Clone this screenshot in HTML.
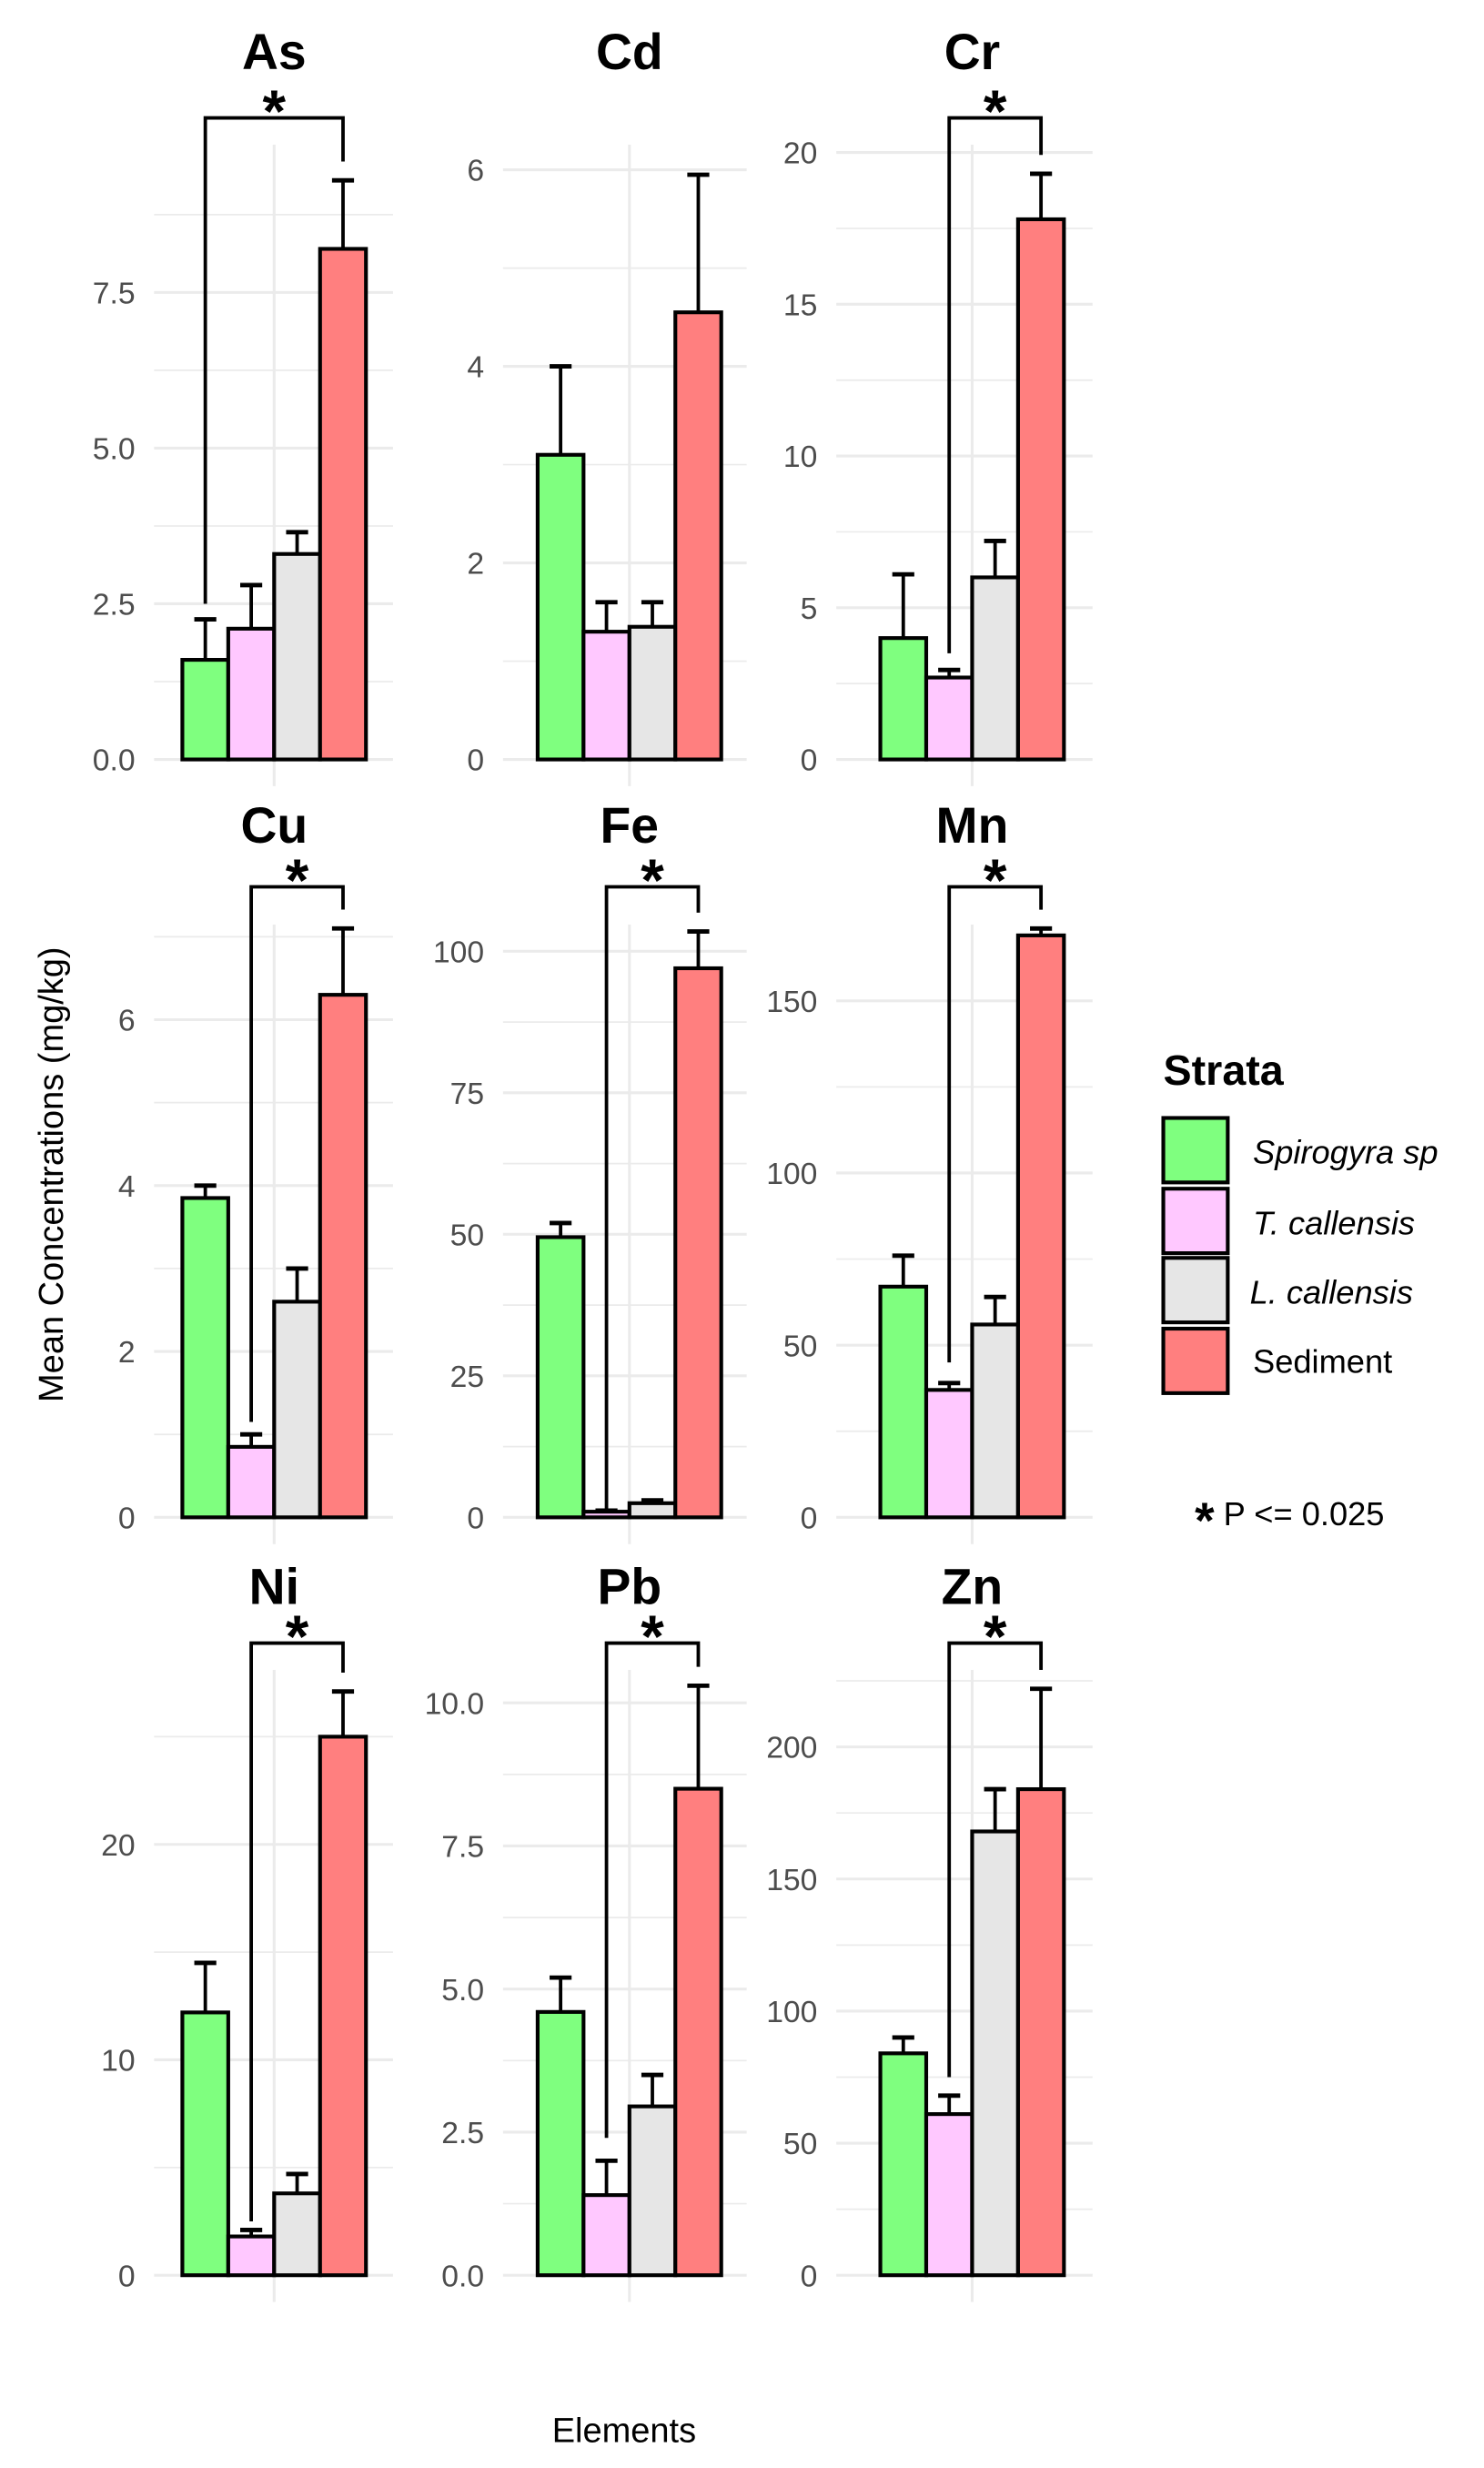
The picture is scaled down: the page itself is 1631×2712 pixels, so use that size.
<!DOCTYPE html>
<html><head><meta charset="utf-8"><style>
html,body{margin:0;padding:0;background:#fff;}
svg{display:block;font-family:"Liberation Sans",Arial,sans-serif;}
</style></head><body>
<svg id="chart" width="1631" height="2712" viewBox="0 0 944 1569.6" preserveAspectRatio="none" xmlns="http://www.w3.org/2000/svg">
<g id="grid"></g><g id="marks"></g><g id="labels"></g>
<text x="0" y="0" transform="translate(40,747) rotate(-90)" text-anchor="middle" font-size="22" fill="#000">Mean Concentrations (mg/kg)</text>
<text x="397" y="1553" text-anchor="middle" font-size="22" fill="#000">Elements</text>
<g>
<text x="740" y="690" font-size="27" font-weight="bold" fill="#000">Strata</text>
<rect x="740" y="711" width="41" height="41" fill="#7fff7f" stroke="#000" stroke-width="2.4"/>
<rect x="740" y="756" width="41" height="41" fill="#ffc8ff" stroke="#000" stroke-width="2.4"/>
<rect x="740" y="800" width="41" height="41" fill="#e6e6e6" stroke="#000" stroke-width="2.4"/>
<rect x="740" y="845" width="41" height="41" fill="#ff7f7f" stroke="#000" stroke-width="2.4"/>
<text x="797" y="740" font-size="21" font-style="italic">Spirogyra sp</text>
<text x="797" y="785" font-size="21" font-style="italic">T. callensis</text>
<text x="795" y="829" font-size="21" font-style="italic">L. callensis</text>
<text x="797" y="873" font-size="21">Sediment</text>
<text x="760" y="970" font-size="21"><tspan font-weight="bold" font-size="32" dy="8">*</tspan><tspan dy="-8"> P &lt;= 0.025</tspan></text>
</g>
</svg>
<script>
const elements = ["As","Cd","Cr","Cu","Fe","Mn","Ni","Pb","Zn"];
const spirogyraMean = [1.6, 3.1, 4.0, 3.85, 49.5, 67, 12.2, 4.6, 84];
const spirogyraErr  = [2.25, 4.0, 6.1, 4.0, 52, 76, 14.5, 5.2, 90];
const tcallMean = [2.1, 1.3, 2.7, 0.85, 1, 37, 1.8, 1.4, 61];
const tcallErr  = [2.8, 1.6, 2.95, 1.0, 1.2, 39, 2.1, 2.0, 68];
const lcallMean = [3.3, 1.35, 6.0, 2.6, 2.5, 56, 3.8, 2.95, 168];
const lcallErr  = [3.65, 1.6, 7.2, 3.0, 3.0, 64, 4.7, 3.5, 184];
const sedimentMean = [8.2, 4.55, 17.8, 6.3, 97, 169, 25, 8.5, 184];
const sedimentErr  = [9.3, 5.95, 19.3, 7.1, 103.5, 171, 27.1, 10.3, 222];
const tickValues = [[0,2.5,5,7.5],[0,2,4,6],[0,5,10,15,20],[0,2,4,6],[0,25,50,75,100],[0,50,100,150],[0,10,20],[0,2.5,5,7.5,10],[0,50,100,150,200]];
const tickLabels = [["0.0","2.5","5.0","7.5"],["0","2","4","6"],["0","5","10","15","20"],["0","2","4","6"],["0","25","50","75","100"],["0","50","100","150"],["0","10","20"],["0.0","2.5","5.0","7.5","10.0"],["0","50","100","150","200"]];
const sigFrom = [0, null, 1, 1, 1, 1, 1, 1, 1];
const sigLegEnd = [2.5, null, 3.5, 1.15, 1.5, 45, 2.5, 2.4, 75];
const tickStep = [2.5, 2, 5, 2, 25, 50, 10, 2.5, 50];
// layout
const colGrid = [[98,250],[320,475],[532,695]];
const colBar = [116,342,560];
const barW = 29.2;
const rowZero = [483,965,1447];
const rowTop = [92,588,1062];
const pxPerStep = [99, 125, 96.5, 105.5, 90, 109.5, 137, 91, 84];
const fills = ["#7fff7f","#ffc8ff","#e6e6e6","#ff7f7f"];
const seriesNames = ["spirogyra","t-callensis","l-callensis","sediment"];
const NS = "http://www.w3.org/2000/svg";
const gGrid = document.getElementById('grid'), gMarks = document.getElementById('marks'), gLab = document.getElementById('labels');
function mk(tag, attrs, parent){const e=document.createElementNS(NS,tag);for(const k in attrs)e.setAttribute(k,attrs[k]);parent.appendChild(e);return e;}
elements.forEach((el,i)=>{
  const col=i%3,row=Math.floor(i/3);
  const [gx0,gx1]=colGrid[col];
  const y0=rowZero[row], top=rowTop[row], bot=y0+17;
  const scale=pxPerStep[i]/tickStep[i];
  const Y=v=>y0-v*scale;
  for(let k=0;;k++){
    const v=k*tickStep[i]/2; const y=Y(v); if(y<top) break;
    const ln=mk('line',{x1:gx0,x2:gx1,y1:y,y2:y,stroke:'#ebebeb','stroke-width':k%2?1:1.8},gGrid);
    
    
  }
  const vl=mk('line',{x1:colBar[col]+2*barW,x2:colBar[col]+2*barW,y1:top,y2:bot,stroke:'#ebebeb','stroke-width':1.8},gGrid);
  
  
  tickValues[i].forEach((t,j)=>{
    const tx=mk('text',{x:gx0-12,y:Y(t)+7,'text-anchor':'end','font-size':19.5,fill:'#4d4d4d'},gLab);
    tx.textContent=tickLabels[i][j];
    
    
  });
  const ttl=mk('text',{x:colBar[col]+2*barW,y:[44,536,1020][row],'text-anchor':'middle','font-size':32,'font-weight':'bold',fill:'#000'},gLab);
  ttl.textContent=el;
  
  
  const means=[spirogyraMean[i],tcallMean[i],lcallMean[i],sedimentMean[i]];
  const errs=[spirogyraErr[i],tcallErr[i],lcallErr[i],sedimentErr[i]];
  means.forEach((m,s)=>{
    const x=colBar[col]+s*barW, bcx=x+barW/2;
    const ey=Y(errs[s]);
    const e1=mk('line',{x1:bcx,x2:bcx,y1:Y(m),y2:ey,stroke:'#000','stroke-width':2.2},gMarks);
    
    
    const e2=mk('line',{x1:bcx-7,x2:bcx+7,y1:ey,y2:ey,stroke:'#000','stroke-width':2.8},gMarks);
    
    
    const r=mk('rect',{x:x,y:Y(m),width:barW,height:m*scale,fill:fills[s],stroke:'#000','stroke-width':2.4},gMarks);
    
    
  });
  if(sigFrom[i]!==null){
    const xl=colBar[col]+sigFrom[i]*barW+barW/2, xr=colBar[col]+3*barW+barW/2;
    const by=[75,564,1045][row];
    const br=mk('polyline',{points:`${xl},${Y(sigLegEnd[i])} ${xl},${by} ${xr},${by} ${xr},${Y(sedimentErr[i])-12}`,fill:'none',stroke:'#000','stroke-width':2.2},gMarks);
    
    
    const st=mk('text',{x:(xl+xr)/2,y:by+9,'text-anchor':'middle','font-size':38,'font-weight':'bold',fill:'#000'},gLab);
    st.textContent='*';
    
    
  }
});
</script>
</body></html>
